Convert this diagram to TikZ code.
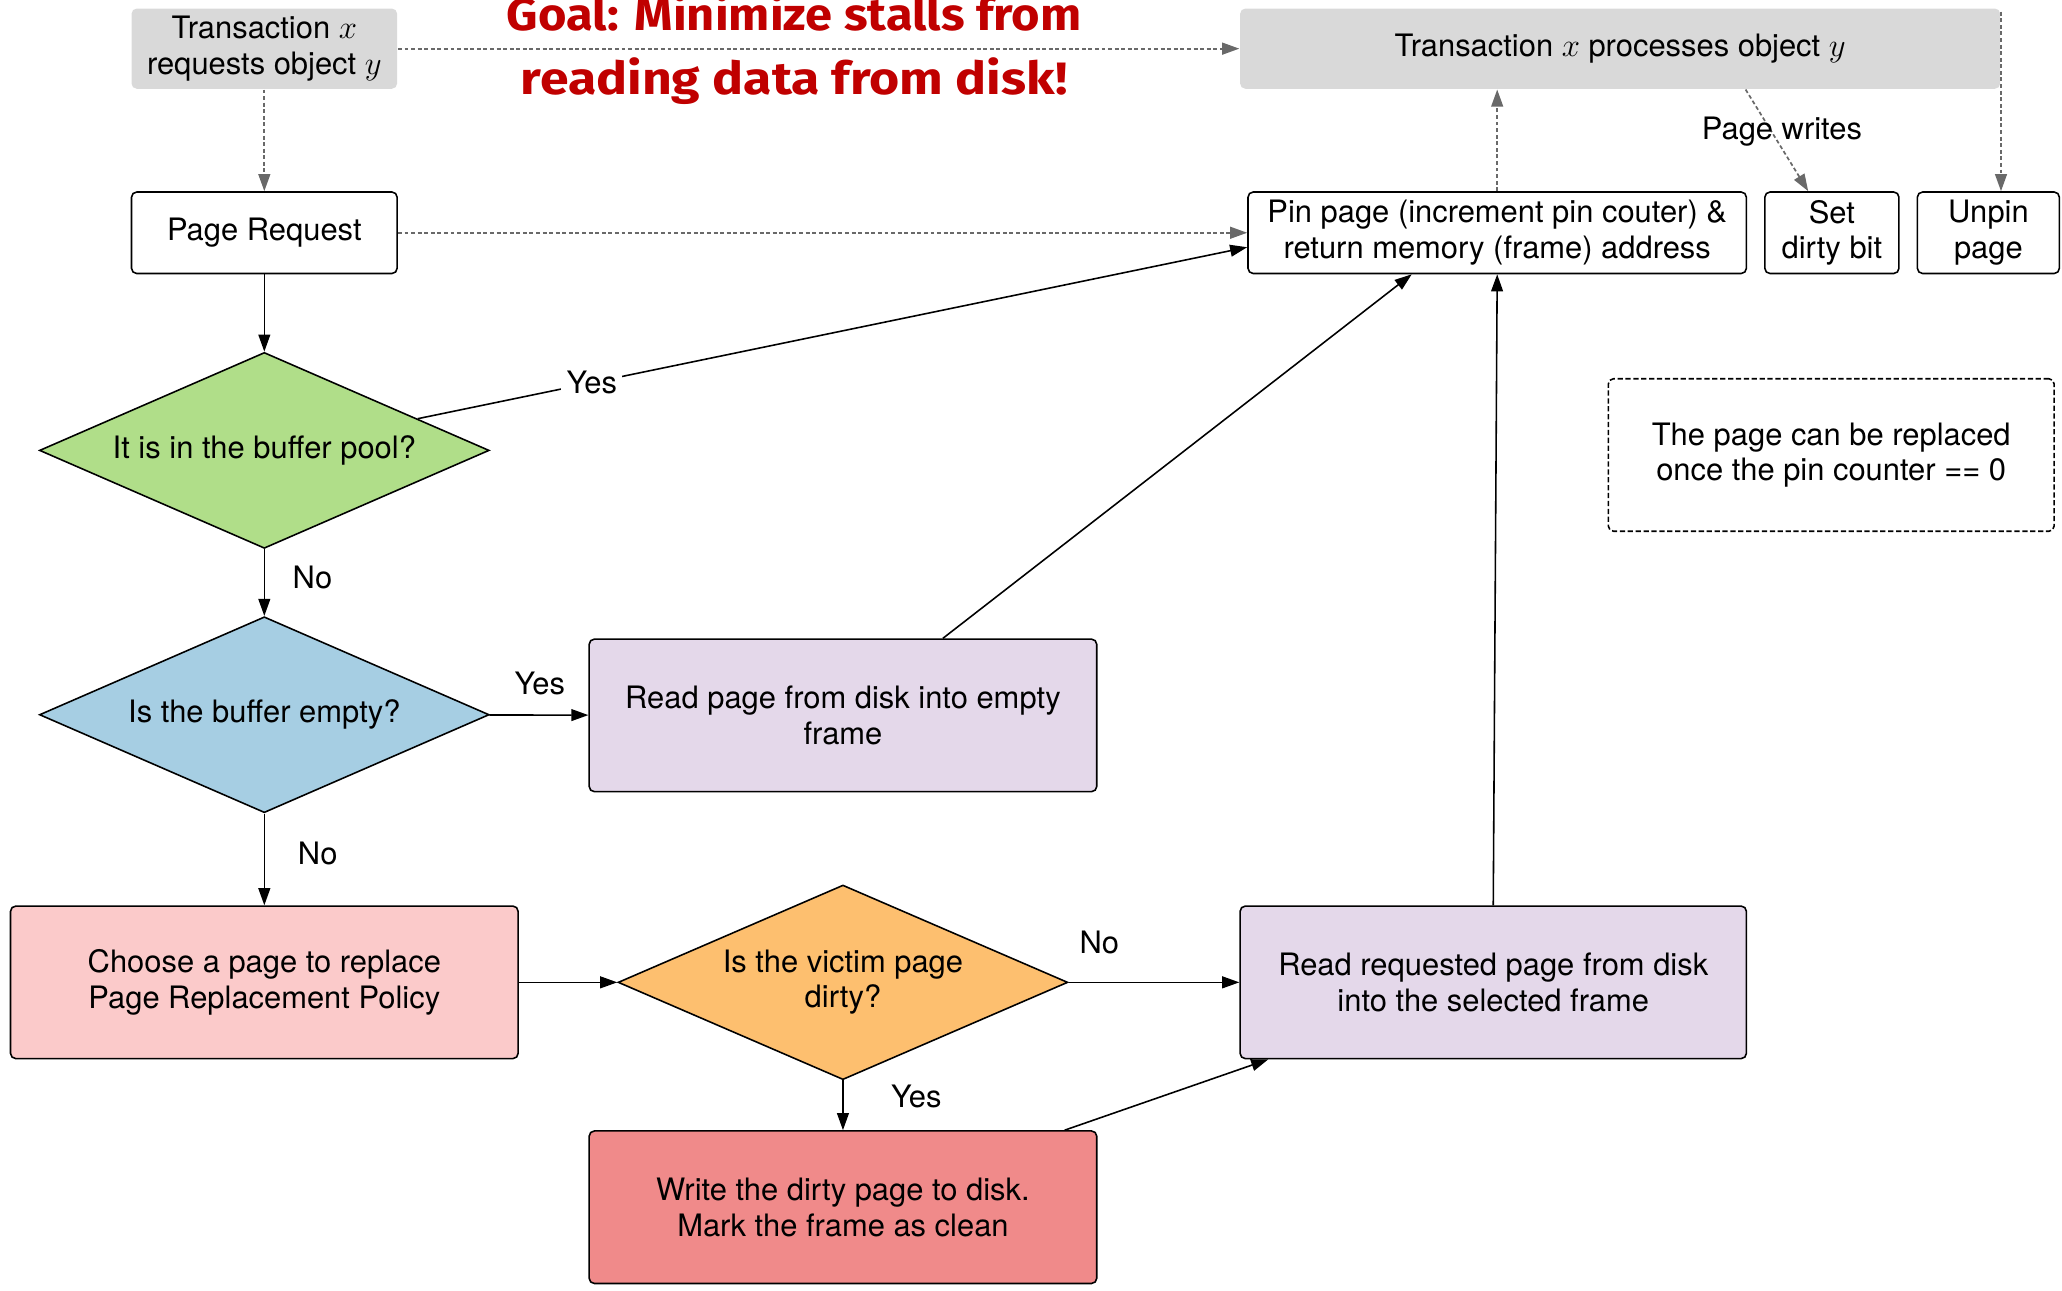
\documentclass[tikz,border=0pt]{standalone}
\usepackage{fontspec}
\usepackage{graphicx}
\setmainfont{TeX Gyre Heros}
\newfontfamily\goalfont{Fira Sans}
\usetikzlibrary{shapes.geometric,arrows.meta,calc}
\definecolor{boxgray}{RGB}{217,217,217}
\definecolor{linegray}{RGB}{105,105,105}
\definecolor{dgreen}{RGB}{176,222,137}
\definecolor{dblue}{RGB}{166,206,227}
\definecolor{dorange}{RGB}{253,191,111}
\definecolor{lav}{RGB}{228,216,234}
\definecolor{pinkbox}{RGB}{251,202,202}
\definecolor{redbox}{RGB}{240,138,138}
\definecolor{goalred}{RGB}{192,0,0}
\tikzset{
  base/.style={align=center, inner sep=0pt, line width=1.2pt},
  box/.style={base, draw, rounded corners=4pt},
  graybox/.style={base, fill=boxgray, rounded corners=4pt},
  notebox/.style={base, draw, rounded corners=4pt, dash pattern=on 4pt off 2pt},
  dia/.style={base, draw, shape=diamond, aspect=2.3, minimum width=342pt},
  arr/.style={line width=1.2pt, -{Triangle[length=13pt,width=9pt]}},
  garr/.style={line width=1.3pt, draw=linegray, dash pattern=on 3pt off 2pt,
     -{Triangle[length=13pt,width=9pt,fill=linegray]}},
  lbl/.style={inner sep=0pt, text=black},
}
\begin{document}
\begin{tikzpicture}[x=1pt,y=-1pt,font=\fontsize{23.5}{27}\selectfont]
\useasboundingbox (0,0) rectangle (1568,981);

% title
\node[anchor=base, align=center, text=goalred, font=\goalfont\bfseries\fontsize{40}{49}\selectfont]
  (goal) at (604,72)
  {\resizebox{437pt}{28pt}{Goal: Minimize stalls from}\\
   \resizebox{416pt}{28pt}{reading data from disk!}};

% nodes
\node[graybox, minimum width=202pt, minimum height=61pt] (req) at (201,37)
  {Transaction $x$\\requests object $y$};
\node[graybox, minimum width=578pt, minimum height=61pt] (proc) at (1232,37)
  {Transaction $x$ processes object $y$};
\node[box, minimum width=202pt, minimum height=62pt] (pagereq) at (201,177) {Page Request};
\node[box, minimum width=379pt, minimum height=62pt] (pin) at (1138.5,177)
  {Pin page (increment pin couter) \&\\return memory (frame) address};
\node[box, minimum width=102pt, minimum height=62pt] (set) at (1393,177) {Set\\dirty bit};
\node[box, minimum width=108pt, minimum height=62pt] (unpin) at (1512,177) {Unpin\\page};
\node[notebox, minimum width=339pt, minimum height=116pt] (note) at (1392.5,346)
  {The page can be replaced\\once the pin counter == 0};

\node[dia, fill=dgreen, minimum height=149pt] (d1) at (201,342.5) {It is in the buffer pool?};
\node[dia, fill=dblue, minimum height=149pt] (d2) at (201,543.5) {Is the buffer empty?};
\node[box, fill=lav, minimum width=386pt, minimum height=116pt] (readempty) at (641,544)
  {Read page from disk into empty\\frame};
\node[box, fill=pinkbox, minimum width=386pt, minimum height=116pt] (choose) at (201,747)
  {Choose a page to replace\\Page Replacement Policy};
\node[dia, fill=dorange, minimum height=148pt] (d3) at (641,747) {Is the victim page\\dirty?};
\node[box, fill=lav, minimum width=385pt, minimum height=116pt] (readreq) at (1135.5,747)
  {Read requested page from disk\\into the selected frame};
\node[box, fill=redbox, minimum width=386pt, minimum height=116pt] (write) at (641,918)
  {Write the dirty page to disk.\\Mark the frame as clean};

% gray dashed connectors
\draw[garr] (req) -- (proc);
\draw[garr] (req) -- (pagereq);
\draw[garr] (pagereq) -- (pin);
\draw[garr] (pin.north) -- (pin.north |- proc.south);
\coordinate (pwstart) at ($(proc.south west)+(385,0)$);
\coordinate (pwend) at ($(set.north)+(-18,0)$);
\draw[garr] (pwstart) -- (pwend);
\node[lbl] (pwlbl) at (1355,100) {Page writes};
\draw[garr] ($(proc.north east)+(0,3)$) -- (proc.north east |- unpin.north);

% solid connectors
\draw[arr] (pagereq) -- (d1);
\draw[arr] (d1) -- ($(pin.west)+(0,11)$)
  node[lbl, pos=0.21, fill=white, inner sep=4pt] {Yes};
\draw[arr] (d1) -- (d2) node[lbl, pos=0.42, right=21pt] {No};
\draw[arr] (d2) -- (readempty) node[lbl, pos=0.51, above=15pt] {Yes};
\draw[arr] ($(readempty.north)+(76,0)$) -- ($(pin.south)+(-65,0)$);
\draw[arr] (d2) -- (choose) node[lbl, pos=0.44, right=25pt] {No};
\draw[arr] (choose) -- (d3);
\draw[arr] (d3) -- (readreq) node[lbl, pos=0.18, above=21pt] {No};
\draw[arr] (d3) -- (write) node[lbl, pos=0.33, right=36pt] {Yes};
\draw[arr] ($(write.north east)+(-25,0)$) -- ($(readreq.south west)+(22,0)$);
\draw[arr] (readreq.north) -- (pin.south);
\end{tikzpicture}
\end{document}
